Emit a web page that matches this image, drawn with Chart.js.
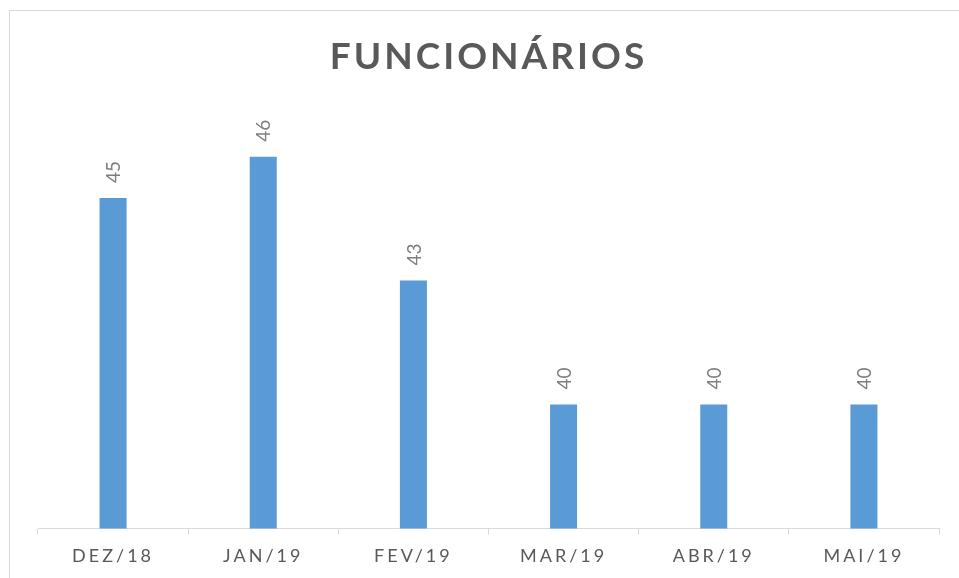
<!DOCTYPE html>
<html>
<head>
<meta charset="utf-8">
<script src="https://cdn.jsdelivr.net/npm/chart.js@4/dist/chart.umd.min.js"></script>
<style>
  html, body { margin: 0; padding: 0; background: #fff; overflow: hidden; }
  #frame {
    position: absolute; left: 9px; top: 10px;
    width: 958px; height: 580px;
    border: 1px solid #d9d9d9;
  }
  #frame canvas { display: block; }
</style>
</head>
<body>
<div id="frame"><canvas id="chart" width="958" height="567"></canvas></div>
<script>
const months = ['DEZ/18', 'JAN/19', 'FEV/19', 'MAR/19', 'ABR/19', 'MAI/19'];
const employees = [45, 46, 43, 40, 40, 40];
const chartTitle = 'FUNCIONÁRIOS';

const spacingPlugin = {
    id: 'spacing',
    beforeDraw(chart) {
        chart.ctx.letterSpacing = '3px';
    },
};

const valueLabels = {
    id: 'valueLabels',
    afterDatasetsDraw(chart) {
        const { ctx } = chart;
        const meta = chart.getDatasetMeta(0);

        ctx.save();
        ctx.letterSpacing = '0px';
        ctx.fillStyle = '#7f7f7f';
        ctx.font = '19px Lato';
        ctx.textAlign = 'left';
        ctx.textBaseline = 'middle';
        meta.data.forEach((bar, i) => {
            ctx.save();
            ctx.translate(bar.x + 1, bar.y - 15);
            ctx.rotate(-Math.PI / 2);
            ctx.fillText(String(employees[i]), 0, 0);
            ctx.restore();
        });
        ctx.restore();
    },
};

new Chart(document.getElementById('chart'), {
    type: 'bar',
    data: {
        labels: months,
        datasets: [{
            data: employees,
            backgroundColor: '#5b9bd5',
            categoryPercentage: 1,
            barPercentage: 0.18,
        }],
    },
    options: {
        responsive: false,
        animation: false,
        layout: {
            padding: { left: 28, right: 29, top: 0, bottom: 0 },
        },
        plugins: {
            legend: { display: false },
            tooltip: { enabled: false },
            title: {
                display: true,
                text: chartTitle,
                color: '#595959',
                font: { family: 'Lato', size: 37, weight: 'bold', lineHeight: 1.2 },
                padding: { top: 24, bottom: 36 },
            },
        },
        scales: {
            x: {
                grid: {
                    display: true,
                    drawOnChartArea: false,
                    offset: true,
                    tickLength: 6,
                    color: '#d9d9d9',
                },
                border: { color: '#d9d9d9', width: 1 },
                ticks: {
                    color: '#595959',
                    font: { family: 'Lato', size: 18 },
                    padding: 11,
                },
            },
            y: {
                display: false,
                min: 37,
                max: 47,
            },
        },
    },
    plugins: [spacingPlugin, valueLabels],
});
</script>
</body>
</html>
